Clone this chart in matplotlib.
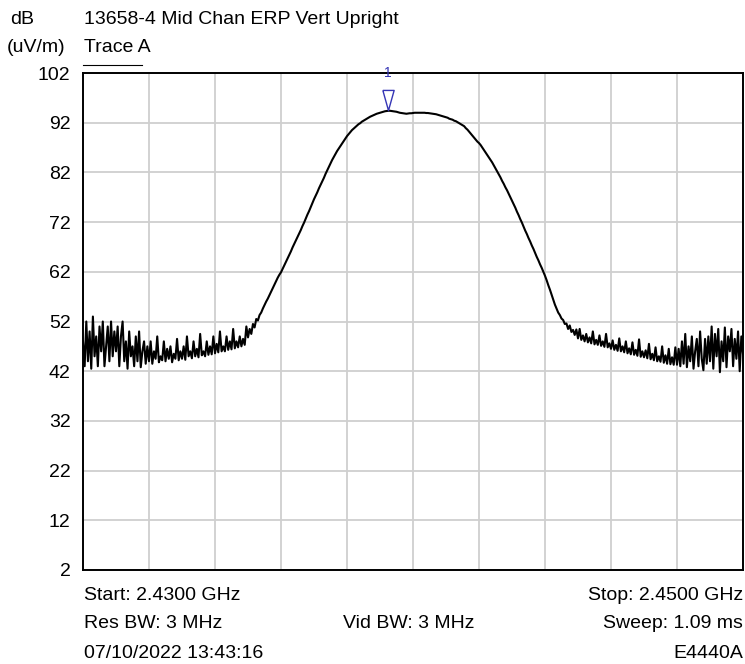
import numpy as np
import matplotlib
matplotlib.use("Agg")
import matplotlib.pyplot as plt
import matplotlib.transforms as mtransforms

# ---- data ----
start_ghz = 2.4300
stop_ghz = 2.4500
y_ticks = [2, 12, 22, 32, 42, 52, 62, 72, 82, 92, 102]

# Trace A levels, dB(uV/m), 401 points evenly spaced from start to stop
trace_a = [
    48, 43, 52, 44, 50, 42.5, 53, 45, 49, 43, 51, 46, 52, 43, 47, 51, 44, 52, 45, 50,
    46, 51, 43, 49, 52, 44, 48, 42.5, 50, 45, 47, 43, 49, 44, 50, 42.8, 46, 48, 43.5, 47,
    44, 48, 43.5, 46, 44.5, 49, 43.8, 45, 44.2, 48, 44, 46.5, 44.5, 47, 43.8, 45.5, 44.5, 48.5, 44.2, 46,
    44.5, 47, 44.3, 49, 45, 46, 44.6, 48, 45, 46.5, 44.8, 49.5, 45.2, 46, 45, 48, 45.3, 47, 45.4, 49,
    45.6, 47.5, 45.8, 50, 46, 47, 46, 49, 46.3, 48, 46.4, 50.5, 46.6, 48, 46.8, 49, 47, 48.5, 47.3, 51,
    48.8, 50.5, 49.5, 51.5, 50.8, 52.5, 52.2, 53.3, 53.8, 54.6, 55.3, 56, 56.6, 57.3, 58, 58.7, 59.4, 60.1, 60.8, 61.4,
    61.9, 62.6, 63.3, 64.0, 64.7, 65.4, 66.1, 66.9, 67.6, 68.3, 69.0, 69.7, 70.4, 71.2, 71.9, 72.7, 73.5, 74.2, 75.0, 75.8,
    76.6, 77.3, 78.0, 78.8, 79.5, 80.2, 80.9, 81.7, 82.4, 83.1, 83.8, 84.5, 85.1, 85.7, 86.3, 86.8, 87.3, 87.8, 88.3, 88.8,
    89.3, 89.7, 90.1, 90.5, 90.8, 91.1, 91.4, 91.7, 91.9, 92.2, 92.4, 92.6, 92.8, 93.0, 93.2, 93.35, 93.5, 93.65, 93.8, 93.9,
    94.0, 94.1, 94.2, 94.3, 94.35, 94.4, 94.4, 94.35, 94.3, 94.25, 94.2, 94.1, 94.0, 93.95, 93.9, 93.85, 93.8, 93.85, 93.9, 93.9,
    93.95, 94.0, 94.0, 94.0, 94.0, 94.0, 94.0, 94.0, 93.95, 93.95, 93.9, 93.85, 93.8, 93.75, 93.7, 93.6, 93.5, 93.4, 93.3, 93.2,
    93.1, 93.0, 92.8, 92.7, 92.6, 92.4, 92.3, 92.1, 91.9, 91.7, 91.5, 91.3, 90.9, 90.6, 90.2, 89.8, 89.4, 89.0, 88.6, 88.2,
    87.9, 87.5, 87.0, 86.5, 86.0, 85.5, 85.0, 84.5, 84.0, 83.4, 82.8, 82.2, 81.6, 81.0, 80.3, 79.7, 79.0, 78.4, 77.7, 77.0,
    76.3, 75.6, 74.9, 74.1, 73.4, 72.6, 71.9, 71.1, 70.3, 69.6, 68.8, 68.1, 67.3, 66.6, 65.8, 65.0, 64.3, 63.5, 62.8, 62.0,
    61.2, 60.3, 59.3, 58.4, 57.4, 56.4, 55.4, 54.6, 53.8, 53.3, 52.6, 52.3, 51.5, 51.6, 50.5, 51.2, 49.9, 50.3, 49.3, 50.4,
    48.6, 50.5, 48.3, 49.2, 48.0, 49.5, 47.8, 48.8, 47.6, 50.0, 47.4, 48.3, 47.3, 49.2, 47.1, 48.0, 46.9, 49.5, 46.8, 47.6,
    46.5, 48.2, 46.3, 47.3, 46.1, 48.6, 46.0, 47.0, 45.8, 48.0, 45.6, 46.6, 45.4, 47.8, 45.3, 46.3, 45.1, 48.4, 44.9, 46.0,
    44.8, 46.2, 44.6, 47.5, 44.4, 45.5, 44.2, 46.8, 44.0, 45.0, 43.9, 47.0, 43.7, 45.2, 43.5, 46.5, 43.4, 44.8, 43.3, 46.8,
    43.3, 46.5, 43.0, 48.0, 43.5, 49.5, 42.8, 47.0, 44.0, 49.0, 42.5, 46.0, 48.5, 43.0, 50.0, 44.5, 42.2, 48.5, 43.5, 49.0,
    44.0, 51.0, 42.5, 49.5, 45.0, 50.5, 41.8, 48.0, 44.0, 50.8, 42.8, 49.0, 46.0, 50.5, 43.0, 48.5, 44.5, 50.0, 42.0, 49.0,
    45.5,
]

title = "13658-4 Mid Chan ERP Vert Upright"
unit_top = "dB"
unit_bottom = "(uV/m)"
trace_name = "Trace A"
footer_left = ["Start: 2.4300 GHz", "Res BW: 3 MHz", "07/10/2022 13:43:16"]
footer_mid = ["", "Vid BW: 3 MHz", ""]
footer_right = ["Stop: 2.4500 GHz", "Sweep: 1.09 ms", "E4440A"]
marker_label = "1"

# ---- plot ----
plt.rcParams['font.family'] = ['Liberation Sans', 'DejaVu Sans']
W, H = 745, 664
fig = plt.figure(figsize=(W / 100, H / 100), dpi=100)
ax_l, ax_r, ax_t, ax_b = 83, 743, 73, 570
ax = fig.add_axes([ax_l / W, 1 - ax_b / H, (ax_r - ax_l) / W, (ax_b - ax_t) / H])

freq = np.linspace(start_ghz, stop_ghz, len(trace_a))
level = np.array(trace_a)

fs = 14
ax.set_xlim(start_ghz, stop_ghz)
ax.set_ylim(y_ticks[0], y_ticks[-1])
ax.set_xticks(np.linspace(start_ghz, stop_ghz, 11))
ax.set_yticks(y_ticks)
ax.set_xticklabels([])
ax.set_yticklabels([str(t) for t in y_ticks], fontsize=fs)
ax.tick_params(length=0, pad=9)
ax.grid(True, color='#cfcfcf', linewidth=1.3)
ax.set_axisbelow(True)
for s in ax.spines.values():
    s.set_color('black')
    s.set_linewidth(1.4)

ax.plot(freq, level, color='black', linewidth=1.5, zorder=3, clip_on=True)

# peak marker
i_pk = int(np.argmax(level))
tri = [(-0.28, 0.5), (0.28, 0.5), (0.0, -0.5), (-0.28, 0.5)]
trans = mtransforms.offset_copy(ax.transData, fig=fig, x=0, y=8.0, units='points')
ax.plot([freq[i_pk]], [level[i_pk]], marker=tri, markersize=14.5, markerfacecolor='none',
        markeredgecolor='#3535b5', markeredgewidth=1.0, transform=trans, zorder=4, clip_on=False)
trans2 = mtransforms.offset_copy(ax.transData, fig=fig, x=0, y=27, units='points')
ax.text(freq[i_pk], level[i_pk], marker_label, color='#3535b5', fontsize=10,
        ha='center', va='center', transform=trans2)

def fx(px):
    return px / W

def fy(py):
    return 1 - py / H

fig.text(fx(10), fy(19), unit_top, fontsize=fs, ha='left', va='center')
fig.text(fx(84), fy(19), title, fontsize=fs, ha='left', va='center')
fig.text(fx(7), fy(48), unit_bottom, fontsize=fs, ha='left', va='center')
fig.text(fx(84), fy(48), trace_name, fontsize=fs, ha='left', va='center')
fig.add_artist(plt.Line2D([fx(83), fx(142)], [fy(64.5), fy(64.5)], color='black', linewidth=0.8))

rows_y = [596, 624, 653]
for ry, l, m, r in zip(rows_y, footer_left, footer_mid, footer_right):
    fig.text(fx(84), fy(ry), l, fontsize=fs, ha='left', va='center')
    if m:
        fig.text(fx(343), fy(ry), m, fontsize=fs, ha='left', va='center')
    fig.text(fx(743), fy(ry), r, fontsize=fs, ha='right', va='center')

fig.savefig("out.png", dpi=100)
